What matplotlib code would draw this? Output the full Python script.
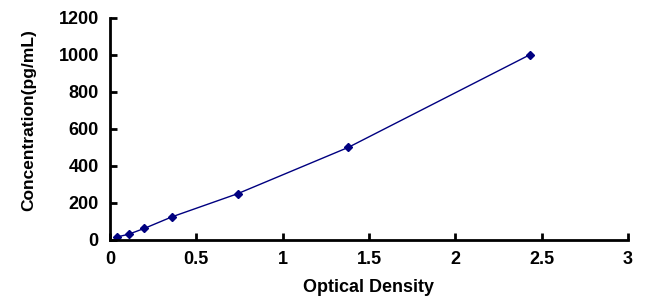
import matplotlib.pyplot as plt

plt.rcParams['font.family'] = ['Liberation Sans', 'DejaVu Sans']
plt.rcParams['font.weight'] = 'bold'

od = [0.04, 0.11, 0.2, 0.36, 0.74, 1.38, 2.43]
conc = [15.6, 31.25, 62.5, 125, 250, 500, 1000]

x_ticks = [0, 0.5, 1, 1.5, 2, 2.5, 3]
x_labels = ['0', '0.5', '1', '1.5', '2', '2.5', '3']
y_ticks = [0, 200, 400, 600, 800, 1000, 1200]

fig = plt.figure(figsize=(6.66, 3.08), dpi=100)
ax = fig.add_axes([0.165, 0.221, 0.778, 0.721])

ax.plot(od, conc, color='#000080', linewidth=1, marker='D', markersize=4.5,
        markerfacecolor='#000080', markeredgecolor='#000080')

ax.set_xlim(0, 3)
ax.set_ylim(0, 1200)
ax.set_xticks(x_ticks)
ax.set_xticklabels(x_labels)
ax.set_yticks(y_ticks)

for s in ['top', 'right']:
    ax.spines[s].set_visible(False)
for s in ['left', 'bottom']:
    ax.spines[s].set_linewidth(2)

ax.tick_params(direction='in', length=5, width=2, labelsize=13, pad=8)
for lbl in ax.get_xticklabels() + ax.get_yticklabels():
    lbl.set_fontweight('bold')

ax.set_xlabel('Optical Density', fontsize=13, fontweight='bold', labelpad=8)
ax.set_ylabel('Concentration(pg/mL)', fontsize=12.5, fontweight='bold')
ax.yaxis.set_label_coords(-0.142, 0.54)

fig.savefig('out.png', dpi=100)
